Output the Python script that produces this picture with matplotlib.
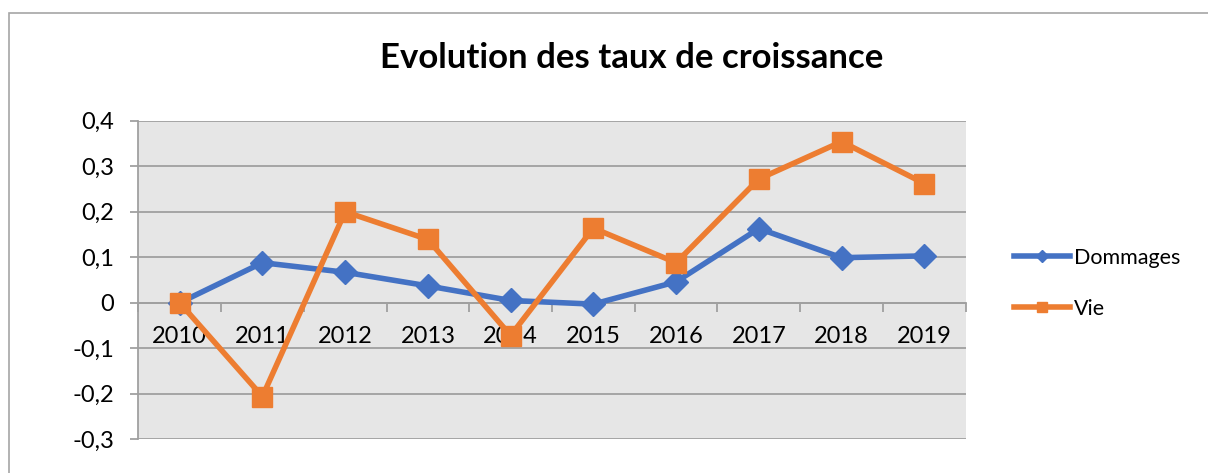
import matplotlib.pyplot as plt
from matplotlib.patches import Rectangle
from matplotlib.ticker import FuncFormatter, FixedLocator

# données
annees = ['2010', '2011', '2012', '2013', '2014', '2015', '2016', '2017', '2018', '2019']
dommages = [0.0, 0.088, 0.067, 0.037, 0.005, -0.003, 0.046, 0.163, 0.099, 0.103]
vie = [0.0, -0.206, 0.200, 0.139, -0.072, 0.164, 0.088, 0.272, 0.354, 0.262]
yticks = [-0.3, -0.2, -0.1, 0, 0.1, 0.2, 0.3, 0.4]

plt.rcParams['font.family'] = ['Lato', 'DejaVu Sans']

W, H = 1208, 473
fig = plt.figure(figsize=(W / 100, H / 100), dpi=100)
fig.patches.append(Rectangle((8.5 / W, -0.1), 1.2, 1 - 13.5 / H + 0.1,
                             transform=fig.transFigure, fill=False,
                             edgecolor='#a6a6a6', linewidth=1.2))

ax = fig.add_axes([138.3 / W, 1 - 439.3 / H, 827.4 / W, 318.6 / H])
ax.set_facecolor('#e6e6e6')

x = list(range(len(annees)))
ax.plot(x, dommages, color='#4472c4', linewidth=4, marker='D', markersize=12,
        label='Dommages', zorder=3)
ax.plot(x, vie, color='#ed7d31', linewidth=4, marker='s', markersize=14,
        label='Vie', zorder=4)

ax.set_xlim(-0.5, len(annees) - 0.5)
ax.set_ylim(-0.3, 0.4)
ax.set_yticks(yticks)
ax.yaxis.set_major_formatter(FuncFormatter(lambda v, p: ('%g' % round(v, 1)).replace('.', ',')))
ax.grid(axis='y', color='#a0a0a0', linewidth=1.3, zorder=1)
ax.set_axisbelow(True)

for s in ['top', 'right']:
    ax.spines[s].set_visible(False)
ax.spines['left'].set_color('#a0a0a0')
ax.spines['left'].set_linewidth(1.3)
ax.spines['bottom'].set_position(('data', 0))
ax.spines['bottom'].set_color('#a0a0a0')
ax.spines['bottom'].set_linewidth(1.3)

ax.set_xticks(x)
ax.set_xticklabels(annees)
ax.tick_params(axis='x', which='major', length=0, pad=17, labelsize=17)
ax.xaxis.set_minor_locator(FixedLocator([i - 0.5 for i in range(len(annees) + 1)]))
ax.tick_params(axis='x', which='minor', length=6.5, width=1.3, color='#a0a0a0', direction='out')
ax.tick_params(axis='y', length=5.5, width=1.3, color='#a0a0a0', pad=12, labelsize=17)

fig.text(632 / W, 1 - 58 / H, 'Evolution des taux de croissance', ha='center', va='center',
         fontsize=25, fontweight='bold')

leg = ax.legend(loc='center left', bbox_to_anchor=(1.035, 0.49), frameon=False, fontsize=15.5,
                handlelength=2.6, handletextpad=0.2, labelspacing=1.45, markerscale=0.5)

fig.savefig('out.png', dpi=100)
